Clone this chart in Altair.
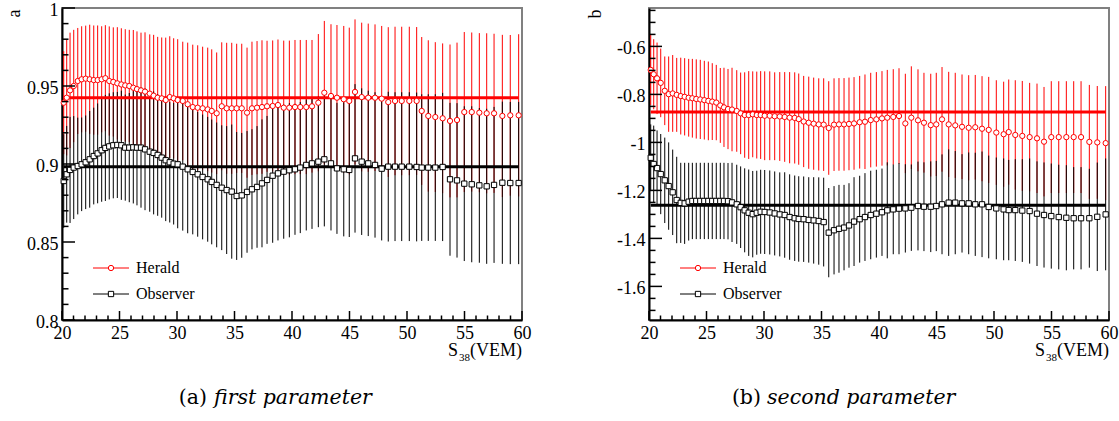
import altair as alt
import pandas as pd

# ---------------- data ----------------
s38 = [20.15, 20.41, 20.70, 21.02, 21.37, 21.71, 22.06, 22.41, 22.76, 23.10,
       23.45, 23.77, 24.11, 24.46, 24.81, 25.16, 25.50, 25.85, 26.20, 26.52,
       26.87, 27.22, 27.63, 27.97, 28.32, 28.67, 29.02, 29.37, 29.71, 30.06,
       30.50, 30.93, 31.37, 31.80, 32.23, 32.67, 33.02, 33.45, 33.89, 34.32,
       34.76, 35.19, 35.63, 36.09, 36.52, 36.96, 37.39, 37.83, 38.32, 38.78,
       39.28, 39.77, 40.26, 40.72, 41.24, 41.74, 42.29, 42.81, 43.39, 43.91,
       44.50, 44.98, 45.48, 46.06, 46.63, 47.22, 47.80, 48.37, 48.96, 49.54,
       50.20, 50.84, 51.28, 51.85, 52.46, 53.10, 53.74, 54.35, 54.98, 55.63,
       56.29, 56.93, 57.57, 58.29, 58.98, 59.71]

herald_a = [0.9393, 0.9425, 0.9472, 0.9500, 0.9532, 0.9543, 0.9547, 0.9543, 0.9538, 0.9538,
            0.9543, 0.9550, 0.9532, 0.9526, 0.9517, 0.9510, 0.9504, 0.9500, 0.9489, 0.9480,
            0.9472, 0.9464, 0.9451, 0.9438, 0.9425, 0.9421, 0.9410, 0.9429, 0.9421, 0.9410,
            0.9404, 0.9383, 0.9365, 0.9361, 0.9357, 0.9350, 0.9340, 0.9325, 0.9370, 0.9357,
            0.9357, 0.9357, 0.9357, 0.9329, 0.9357, 0.9361, 0.9365, 0.9370, 0.9372, 0.9378,
            0.9361, 0.9361, 0.9365, 0.9365, 0.9365, 0.9370, 0.9393, 0.9457, 0.9436, 0.9425,
            0.9415, 0.9404, 0.9462, 0.9429, 0.9425, 0.9425, 0.9419, 0.9397, 0.9404, 0.9404,
            0.9404, 0.9404, 0.9340, 0.9308, 0.9301, 0.9293, 0.9276, 0.9282, 0.9333, 0.9333,
            0.9329, 0.9325, 0.9325, 0.9308, 0.9312, 0.9312]
herald_a_err = [0.033, 0.037, 0.037, 0.036, 0.034, 0.034, 0.034, 0.035, 0.035, 0.035,
                0.034, 0.034, 0.035, 0.035, 0.036, 0.036, 0.036, 0.036, 0.037, 0.037,
                0.037, 0.038, 0.038, 0.039, 0.039, 0.039, 0.040, 0.039, 0.0385, 0.039,
                0.038, 0.0395, 0.040, 0.040, 0.0395, 0.0396, 0.0395, 0.039, 0.041, 0.042,
                0.042, 0.0414, 0.0414, 0.0417, 0.0427, 0.0427, 0.0428, 0.042, 0.042, 0.042,
                0.043, 0.043, 0.043, 0.043, 0.043, 0.0425, 0.044, 0.046, 0.046, 0.0466,
                0.047, 0.047, 0.0465, 0.0477, 0.0475, 0.047, 0.0466, 0.048, 0.0476, 0.0476,
                0.0476, 0.0474, 0.0474, 0.0485, 0.048, 0.048, 0.049, 0.0496, 0.0513, 0.051,
                0.051, 0.0513, 0.051, 0.052, 0.0515, 0.052]

observer_a = [0.8891, 0.8934, 0.8962, 0.8977, 0.8987, 0.8998, 0.9011, 0.9030, 0.9051, 0.9068,
              0.9088, 0.9103, 0.9113, 0.9120, 0.9122, 0.9120, 0.9105, 0.9105, 0.9107, 0.9105,
              0.9105, 0.9094, 0.9079, 0.9071, 0.9058, 0.9041, 0.9024, 0.9011, 0.9002, 0.8998,
              0.8983, 0.8966, 0.8949, 0.8934, 0.8917, 0.8902, 0.8885, 0.8866, 0.8848, 0.8833,
              0.8823, 0.8795, 0.8799, 0.8821, 0.8838, 0.8853, 0.8876, 0.8898, 0.8925, 0.8940,
              0.8951, 0.8960, 0.8966, 0.8977, 0.8994, 0.9004, 0.9015, 0.9030, 0.9004, 0.8972,
              0.8966, 0.8962, 0.9036, 0.9015, 0.9004, 0.8994, 0.8970, 0.8983, 0.8983, 0.8983,
              0.8983, 0.8981, 0.8977, 0.8977, 0.8977, 0.8981, 0.8902, 0.8895, 0.8874, 0.8870,
              0.8863, 0.8857, 0.8866, 0.8880, 0.8878, 0.8878]
observer_a_err = [0.030, 0.031, 0.034, 0.033, 0.031, 0.030, 0.030, 0.031, 0.031, 0.032,
                  0.033, 0.034, 0.034, 0.034, 0.034, 0.035, 0.034, 0.035, 0.036, 0.037,
                  0.0385, 0.039, 0.0385, 0.0394, 0.039, 0.0385, 0.039, 0.0386, 0.039, 0.041,
                  0.041, 0.041, 0.040, 0.040, 0.040, 0.040, 0.040, 0.040, 0.040, 0.041,
                  0.043, 0.041, 0.040, 0.039, 0.0385, 0.039, 0.041, 0.041, 0.043, 0.043,
                  0.043, 0.043, 0.042, 0.042, 0.042, 0.042, 0.042, 0.043, 0.043, 0.042,
                  0.043, 0.043, 0.0476, 0.047, 0.0466, 0.0466, 0.046, 0.048, 0.0477, 0.0477,
                  0.0477, 0.0477, 0.047, 0.047, 0.047, 0.0475, 0.049, 0.0495, 0.0496, 0.050,
                  0.0496, 0.0497, 0.050, 0.052, 0.052, 0.052]

herald_b = [-0.698, -0.716, -0.733, -0.752, -0.785, -0.799, -0.796, -0.802, -0.807, -0.810,
            -0.814, -0.816, -0.819, -0.821, -0.824, -0.827, -0.830, -0.834, -0.846, -0.854,
            -0.861, -0.863, -0.869, -0.879, -0.886, -0.886, -0.883, -0.886, -0.886, -0.889,
            -0.889, -0.891, -0.892, -0.894, -0.897, -0.898, -0.903, -0.913, -0.918, -0.922,
            -0.925, -0.926, -0.940, -0.926, -0.925, -0.925, -0.923, -0.921, -0.916, -0.914,
            -0.907, -0.904, -0.900, -0.897, -0.894, -0.890, -0.921, -0.897, -0.908, -0.918,
            -0.928, -0.925, -0.904, -0.925, -0.929, -0.935, -0.939, -0.937, -0.943, -0.948,
            -0.959, -0.966, -0.957, -0.969, -0.973, -0.978, -0.983, -0.997, -0.978, -0.978,
            -0.978, -0.978, -0.978, -0.998, -1.000, -1.003]
herald_b_err = [0.146, 0.146, 0.149, 0.143, 0.143, 0.157, 0.160, 0.154, 0.160, 0.161,
                0.162, 0.164, 0.165, 0.165, 0.164, 0.164, 0.160, 0.157, 0.156, 0.165,
                0.167, 0.174, 0.170, 0.170, 0.178, 0.183, 0.179, 0.181, 0.183, 0.185,
                0.185, 0.183, 0.185, 0.187, 0.190, 0.190, 0.190, 0.190, 0.192, 0.192,
                0.192, 0.193, 0.195, 0.193, 0.193, 0.193, 0.193, 0.193, 0.193, 0.197,
                0.197, 0.197, 0.197, 0.199, 0.199, 0.199, 0.207, 0.214, 0.2125, 0.208,
                0.214, 0.215, 0.218, 0.219, 0.219, 0.218, 0.219, 0.218, 0.219, 0.221,
                0.218, 0.219, 0.219, 0.228, 0.229, 0.226, 0.228, 0.228, 0.233, 0.233,
                0.233, 0.233, 0.233, 0.2375, 0.235, 0.2375]

observer_b = [-1.064, -1.090, -1.107, -1.132, -1.158, -1.182, -1.208, -1.240, -1.252, -1.254,
              -1.247, -1.244, -1.244, -1.244, -1.244, -1.244, -1.244, -1.244, -1.244, -1.244,
              -1.245, -1.250, -1.258, -1.270, -1.283, -1.293, -1.299, -1.293, -1.289, -1.290,
              -1.292, -1.296, -1.300, -1.3025, -1.311, -1.316, -1.319, -1.320, -1.323, -1.325,
              -1.3275, -1.332, -1.376, -1.366, -1.360, -1.355, -1.346, -1.330, -1.320, -1.311,
              -1.3025, -1.297, -1.291, -1.283, -1.279, -1.276, -1.275, -1.272, -1.265, -1.268,
              -1.268, -1.265, -1.258, -1.251, -1.251, -1.254, -1.254, -1.258, -1.258, -1.269,
              -1.275, -1.279, -1.282, -1.282, -1.284, -1.286, -1.297, -1.3025, -1.307, -1.311,
              -1.314, -1.316, -1.316, -1.316, -1.310, -1.300]
observer_b_err = [0.139, 0.160, 0.157, 0.167, 0.178, 0.182, 0.178, 0.180, 0.167, 0.169,
                  0.162, 0.159, 0.159, 0.159, 0.159, 0.159, 0.159, 0.159, 0.159, 0.159,
                  0.159, 0.165, 0.165, 0.170, 0.175, 0.180, 0.180, 0.175, 0.175, 0.175,
                  0.175, 0.175, 0.175, 0.178, 0.178, 0.178, 0.178, 0.178, 0.178, 0.180,
                  0.182, 0.185, 0.186, 0.184, 0.183, 0.178, 0.176, 0.185, 0.181, 0.183,
                  0.1845, 0.183, 0.182, 0.200, 0.187, 0.190, 0.184, 0.180, 0.185, 0.185,
                  0.189, 0.188, 0.208, 0.222, 0.215, 0.205, 0.212, 0.215, 0.220, 0.214,
                  0.212, 0.212, 0.209, 0.212, 0.214, 0.219, 0.218, 0.219, 0.219, 0.218,
                  0.219, 0.213, 0.213, 0.206, 0.226, 0.233]

fit_a = [0.9425, 0.8983]      # Herald, Observer
fit_b = [-0.8733, -1.262]

x_major = [20, 25, 30, 35, 40, 45, 50, 55, 60]
x_minor = [v for v in range(21, 60) if v % 5]
ya_major = [0.8, 0.85, 0.9, 0.95, 1.0]
ya_minor = [round(0.8 + 0.01 * i, 2) for i in range(1, 20) if i % 5]
yb_major = [-1.6, -1.4, -1.2, -1.0, -0.8, -0.6]
yb_minor = [-1.70, -1.65, -1.55, -1.50, -1.45, -1.35, -1.30, -1.25, -1.15, -1.10,
            -1.05, -0.95, -0.90, -0.85, -0.75, -0.70, -0.65, -0.55, -0.50, -0.45]

# ---------------- styling ----------------
RED = "#ff0000"
BLACK = "#000000"
W, H = 460, 312
FONT = "Liberation Serif"
LBL = 18
MSIZE = 28


def sdf(y, err):
    return pd.DataFrame({"x": s38, "y": y,
                         "lo": [v - e for v, e in zip(y, err)],
                         "hi": [v + e for v, e in zip(y, err)]})


def panel(yh, eh, yo, eo, fits, ydom, ymaj, ymin, ytitle, ytitle_x, tag, caption, cap_a, cap_b):
    xs = alt.Scale(domain=[20, 60], nice=False, zero=False)
    ys = alt.Scale(domain=ydom, nice=False, zero=False)
    xax = alt.Axis(values=x_major, ticks=False, tickSize=0, domainColor=BLACK, domainWidth=2,
                   labelFont=FONT, labelFontSize=LBL, labelColor=BLACK, labelPadding=4,
                   labelFlush=False, labelOverlap=False, grid=False, title=None, format="d")
    yax = alt.Axis(values=ymaj, ticks=False, tickSize=0, domainColor=BLACK, domainWidth=2,
                   labelFont=FONT, labelFontSize=LBL, labelColor=BLACK, labelPadding=4,
                   labelOffset=2, labelFlush=False, labelOverlap=False, grid=False,
                   labelExpr="replace(format(datum.value, '~g'), '\u2212', '-')",
                   title=ytitle, titleFont=FONT, titleFontSize=LBL, titleFontWeight="normal",
                   titleColor=BLACK, titleAngle=270, titleAlign="right", titleBaseline="alphabetic",
                   titleX=ytitle_x, titleY=1)

    def X(f):
        return alt.X(f, type="quantitative", scale=xs, axis=xax)

    def Y(f):
        return alt.Y(f, type="quantitative", scale=ys, axis=yax)

    dh = sdf(yh, eh)
    do = sdf(yo, eo)
    layers = []
    layers.append(alt.Chart(dh).mark_rule(color=RED, strokeWidth=1).encode(x=X("x"), y=Y("lo"), y2="hi"))
    layers.append(alt.Chart(do).mark_rule(color=BLACK, strokeWidth=1).encode(x=X("x"), y=Y("lo"), y2="hi"))
    for val, col in zip(fits, [RED, BLACK]):
        fd = pd.DataFrame({"x1": [s38[0]], "x2": [s38[-1]], "f": [val]})
        layers.append(alt.Chart(fd).mark_rule(color=col, strokeWidth=3).encode(x=X("x1"), x2="x2", y=Y("f")))
    layers.append(alt.Chart(dh).mark_point(shape="circle", filled=True, fill="white", stroke=RED,
                                           strokeWidth=1, size=MSIZE, opacity=1).encode(x=X("x"), y=Y("y")))
    layers.append(alt.Chart(do).mark_point(shape="square", filled=True, fill="white", stroke=BLACK,
                                           strokeWidth=1, size=MSIZE, opacity=1).encode(x=X("x"), y=Y("y")))
    # inward ticks (ROOT style)
    layers.append(alt.Chart(pd.DataFrame({"v": ymaj})).mark_rule(color=BLACK, strokeWidth=1.5)
                  .encode(y=Y("v"), x=alt.value(0), x2=alt.value(13)))
    layers.append(alt.Chart(pd.DataFrame({"v": ymin})).mark_rule(color=BLACK, strokeWidth=1.5)
                  .encode(y=Y("v"), x=alt.value(0), x2=alt.value(6.5)))
    layers.append(alt.Chart(pd.DataFrame({"v": x_major})).mark_rule(color=BLACK, strokeWidth=1.5)
                  .encode(x=X("v"), y=alt.value(H), y2=alt.value(H - 9)))
    layers.append(alt.Chart(pd.DataFrame({"v": x_minor})).mark_rule(color=BLACK, strokeWidth=1.5)
                  .encode(x=X("v"), y=alt.value(H), y2=alt.value(H - 4.5)))
    # legend
    for i, (name, col, shp) in enumerate([("Herald", RED, "circle"), ("Observer", BLACK, "square")]):
        yy = 260 + 26 * i
        one = pd.DataFrame({"t": [name]})
        layers.append(alt.Chart(one).mark_rule(color=col, strokeWidth=1)
                      .encode(x=alt.value(31), x2=alt.value(67), y=alt.value(yy)))
        layers.append(alt.Chart(one).mark_point(shape=shp, filled=True, fill="white", stroke=col,
                                                strokeWidth=1, size=MSIZE, opacity=1)
                      .encode(x=alt.value(49), y=alt.value(yy)))
        layers.append(alt.Chart(one).mark_text(align="left", baseline="alphabetic", font=FONT,
                                               fontSize=16, color=BLACK, dy=5)
                      .encode(x=alt.value(74), y=alt.value(yy), text="t:N"))
    # x title  S_38(VEM)
    layers.append(alt.Chart(pd.DataFrame({"t": ["S"]})).mark_text(align="right", baseline="alphabetic",
                  font=FONT, fontSize=18, color=BLACK).encode(x=alt.value(396), y=alt.value(H + 36), text="t:N"))
    layers.append(alt.Chart(pd.DataFrame({"t": ["38"]})).mark_text(align="left", baseline="alphabetic",
                  font=FONT, fontSize=11, color=BLACK).encode(x=alt.value(397), y=alt.value(H + 41), text="t:N"))
    layers.append(alt.Chart(pd.DataFrame({"t": ["(VEM)"]})).mark_text(align="right", baseline="alphabetic",
                  font=FONT, fontSize=18, color=BLACK).encode(x=alt.value(W), y=alt.value(H + 36), text="t:N"))
    # caption
    layers.append(alt.Chart(pd.DataFrame({"t": [tag]})).mark_text(align="right", baseline="alphabetic",
                  font="DejaVu Serif", fontSize=20.5, color=BLACK).encode(x=alt.value(cap_a), y=alt.value(396), text="t:N"))
    layers.append(alt.Chart(pd.DataFrame({"t": [caption]})).mark_text(align="left", baseline="alphabetic",
                  font="DejaVu Serif", fontStyle="italic", fontSize=20.5, color=BLACK)
                  .encode(x=alt.value(cap_b), y=alt.value(396), text="t:N"))
    return alt.layer(*layers).properties(width=W, height=H)


pa = panel(herald_a, herald_a_err, observer_a, observer_a_err, fit_a, [0.8, 1.0],
           ya_major, ya_minor, "a", -43, "(a)", "first parameter", 145, 152)
pb = panel(herald_b, herald_b_err, observer_b, observer_b_err, fit_b, [-1.74, -0.44],
           yb_major, yb_minor, "b", -49, "(b)", "second parameter", 112, 118)

chart = (alt.hconcat(pa, pb, spacing=53)
         .configure_view(stroke="#808080", strokeWidth=2)
         .configure_axis(labelFont=FONT, titleFont=FONT)
         .configure_text(font=FONT)
         .properties(padding={"left": 4, "top": 0, "right": 0, "bottom": 0}, background="white"))

chart.save("out.html", embed_options={"renderer": "svg", "actions": False})
